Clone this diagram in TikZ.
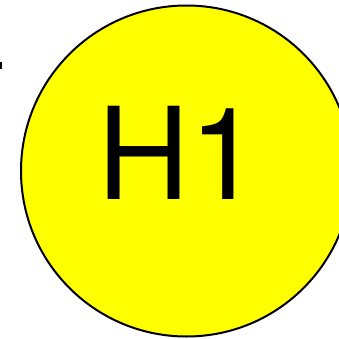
\documentclass[tikz,border=0pt]{standalone}
\usepackage{fontspec}
\setmainfont{TeX Gyre Heros}
\definecolor{pureyellow}{RGB}{255,255,0}
\tikzset{
  bubble/.style={draw=black, line width=2pt, fill=pureyellow},
  biglabel/.style={inner sep=0pt, anchor=base west, font=\fontsize{128}{128}\selectfont},
}
\begin{document}
\begin{tikzpicture}[x=1pt,y=1pt]
\useasboundingbox (0,0) rectangle (339,338);
\clip (0,0) rectangle (339,338);
\fill[black] (0,269) rectangle (2,276);
\node[bubble, circle, minimum size=331pt, inner sep=0pt] (c) at (186.5,167) {};
\node[biglabel] (t) at (97.1,138.7) {H1};
\end{tikzpicture}
\end{document}
